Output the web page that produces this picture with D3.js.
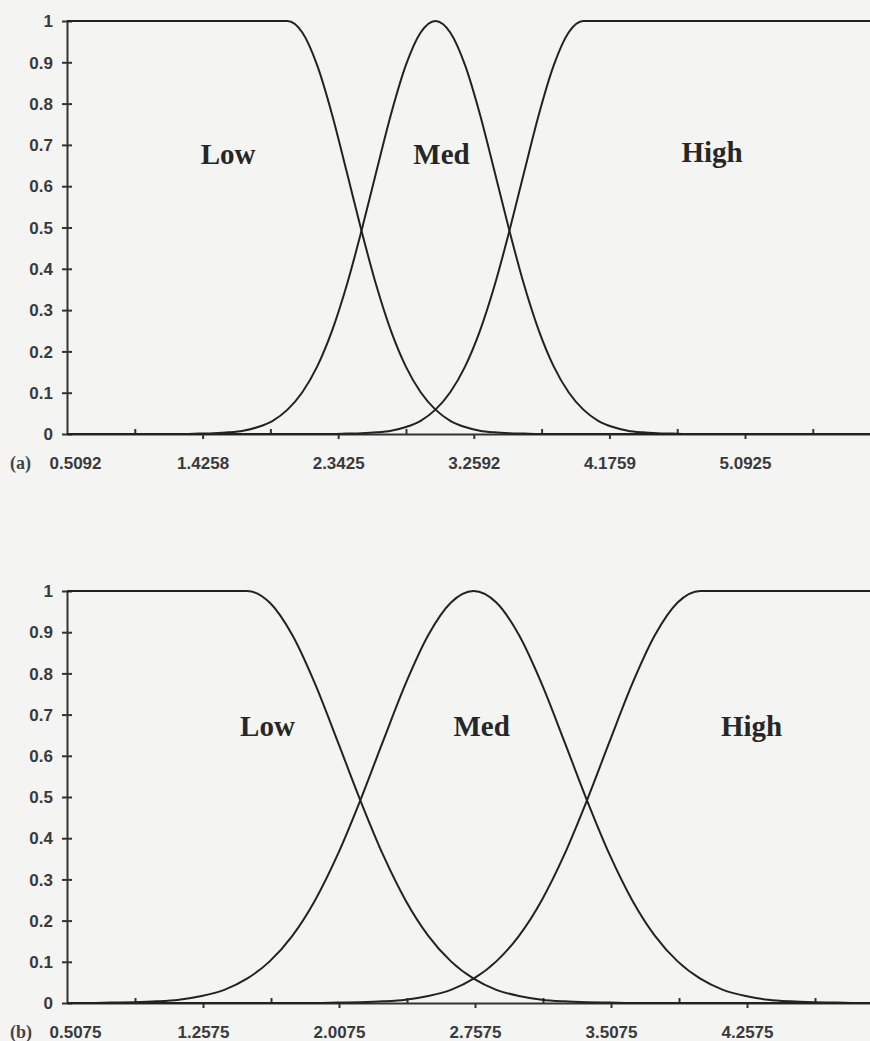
<!DOCTYPE html>
<html>
<head>
<meta charset="utf-8">
<script src="https://cdn.jsdelivr.net/npm/d3@7"></script>
<style>
  body { margin: 0; background: #f4f4f2; }
  svg { display: block; }
  .axis .tick text {
    font-family: "Liberation Sans", Arial, sans-serif;
    font-weight: bold;
    font-size: 17px;
    fill: #3a3a3a;
  }
  .axis line, .axis path { stroke: #333; stroke-width: 2; }
  .mf-line { fill: none; stroke: #222; stroke-width: 2; }
  .mf-label {
    font-family: "Liberation Serif", "Times New Roman", serif;
    font-weight: bold;
    font-size: 29px;
    fill: #262626;
    text-anchor: middle;
  }
  .panel-tag {
    font-family: "Liberation Serif", "Times New Roman", serif;
    font-size: 18px;
    font-weight: bold;
    fill: #444;
  }
</style>
</head>
<body>
<svg id="chart" width="870" height="1041"></svg>
<script>
// shared
const yTicks = [0, 0.1, 0.2, 0.3, 0.4, 0.5, 0.6, 0.7, 0.8, 0.9, 1];
const setNames = ["Low", "Med", "High"];

// panel (a)
const xLabelsA = ["0.5092", "1.4258", "2.3425", "3.2592", "4.1759", "5.0925"];
const lowA = [[0.5092, 1], [2.0, 1], [2.1, 0.972], [2.2, 0.893], [2.3, 0.775], [2.4, 0.635],
  [2.5, 0.492], [2.6, 0.36], [2.7, 0.249], [2.8, 0.163], [2.9, 0.101], [3.0, 0.059],
  [3.1, 0.032], [3.2, 0.017], [3.3, 0.008], [3.4, 0.004], [3.5, 0.002], [3.6, 0.001],
  [3.7, 0], [6.0092, 0]];
const medA = [[0.5092, 0], [1.3, 0], [1.4, 0.001], [1.5, 0.002], [1.6, 0.004], [1.7, 0.008],
  [1.8, 0.017], [1.9, 0.032], [2.0, 0.059], [2.1, 0.101], [2.2, 0.163], [2.3, 0.249],
  [2.4, 0.36], [2.5, 0.492], [2.6, 0.635], [2.7, 0.775], [2.8, 0.893], [2.9, 0.972],
  [3.0, 1], [3.1, 0.972], [3.2, 0.893], [3.3, 0.775], [3.4, 0.635], [3.5, 0.492],
  [3.6, 0.36], [3.7, 0.249], [3.8, 0.163], [3.9, 0.101], [4.0, 0.059], [4.1, 0.032],
  [4.2, 0.017], [4.3, 0.008], [4.4, 0.004], [4.5, 0.002], [4.6, 0.001], [4.7, 0],
  [6.0092, 0]];
const highA = [[0.5092, 0], [2.3, 0], [2.4, 0.001], [2.5, 0.002], [2.6, 0.004], [2.7, 0.008],
  [2.8, 0.017], [2.9, 0.032], [3.0, 0.059], [3.1, 0.101], [3.2, 0.163], [3.3, 0.249],
  [3.4, 0.36], [3.5, 0.492], [3.6, 0.635], [3.7, 0.775], [3.8, 0.893], [3.9, 0.972],
  [4.0, 1], [6.0092, 1]];

// panel (b)
const xLabelsB = ["0.5075", "1.2575", "2.0075", "2.7575", "3.5075", "4.2575"];
const lowB = [[0.5075, 1], [1.5, 1], [1.625, 0.972], [1.75, 0.893], [1.875, 0.775], [2.0, 0.635],
  [2.125, 0.492], [2.25, 0.36], [2.375, 0.249], [2.5, 0.163], [2.625, 0.101], [2.75, 0.059],
  [2.875, 0.032], [3.0, 0.017], [3.125, 0.008], [3.25, 0.004], [3.375, 0.002], [3.5, 0.001],
  [3.625, 0], [5.0075, 0]];
const medB = [[0.5075, 0], [0.625, 0], [0.75, 0.001], [0.875, 0.002], [1.0, 0.004], [1.125, 0.008],
  [1.25, 0.017], [1.375, 0.032], [1.5, 0.059], [1.625, 0.101], [1.75, 0.163], [1.875, 0.249],
  [2.0, 0.36], [2.125, 0.492], [2.25, 0.635], [2.375, 0.775], [2.5, 0.893], [2.625, 0.972],
  [2.75, 1], [2.875, 0.972], [3.0, 0.893], [3.125, 0.775], [3.25, 0.635], [3.375, 0.492],
  [3.5, 0.36], [3.625, 0.249], [3.75, 0.163], [3.875, 0.101], [4.0, 0.059], [4.125, 0.032],
  [4.25, 0.017], [4.375, 0.008], [4.5, 0.004], [4.625, 0.002], [4.75, 0.001], [4.875, 0],
  [5.0075, 0]];
const highB = [[0.5075, 0], [1.875, 0], [2.0, 0.001], [2.125, 0.002], [2.25, 0.004], [2.375, 0.008],
  [2.5, 0.017], [2.625, 0.032], [2.75, 0.059], [2.875, 0.101], [3.0, 0.163], [3.125, 0.249],
  [3.25, 0.36], [3.375, 0.492], [3.5, 0.635], [3.625, 0.775], [3.75, 0.893], [3.875, 0.972],
  [4.0, 1], [5.0075, 1]];

// layout for each panel (pixels, and label anchors in data units)
const panels = [
  {
    tag: "(a)", labels: xLabelsA, series: [lowA, medA, highA],
    domain: [0.5092, 6.0092], left: 67, right: 880.6, top: 21, bottom: 434,
    textAt: [[1.598, 0.654], [3.041, 0.654], [4.87, 0.659]],
  },
  {
    tag: "(b)", labels: xLabelsB, series: [lowB, medB, highB],
    domain: [0.5075, 5.0075], left: 67, right: 883, top: 591, bottom: 1003,
    textAt: [[1.613, 0.647], [2.794, 0.647], [4.283, 0.649]],
  },
];

const svg = d3.select("#chart");

panels.forEach((p) => {
  const x = d3.scaleLinear().domain(p.domain).range([p.left, p.right]);
  const y = d3.scaleLinear().domain([0, 1]).range([p.bottom, p.top]);
  const g = svg.append("g");

  // major ticks carry labels, minor ticks sit half way between them
  const majors = p.labels.map(Number);
  const step = majors[1] - majors[0];
  const minors = majors.map((d) => d + step / 2);
  const tickVals = [...majors, ...minors].sort((a, b) => a - b);
  const isMajor = (d) => majors.some((m) => Math.abs(m - d) < 1e-6);

  g.append("g")
    .attr("class", "axis axis-x")
    .attr("transform", `translate(0,${p.bottom})`)
    .call(
      d3.axisBottom(x)
        .tickValues(tickVals)
        .tickSizeOuter(0)
        .tickFormat((d) => {
          const i = majors.findIndex((m) => Math.abs(m - d) < 1e-6);
          return i >= 0 ? p.labels[i] : "";
        })
    )
    .call((g) =>
      g.selectAll(".tick line")
        .attr("y1", 0)
        .attr("y2", (d) => (isMajor(d) ? 5 : -5))
        .style("display", (d, i) => (i === 0 ? "none" : null))
    )
    .call((g) =>
      g.selectAll(".tick text")
        .attr("dy", null)
        .attr("y", 35)
        .attr("dx", (d, i) => (i === 0 ? 8 : 0))
    );

  g.append("g")
    .attr("class", "axis axis-y")
    .attr("transform", `translate(${p.left},0)`)
    .call(
      d3.axisLeft(y)
        .tickValues(yTicks)
        .tickSizeOuter(0)
        .tickFormat(d3.format("~g"))
    )
    .call((g) => g.selectAll(".tick line").attr("x1", 5).attr("x2", -5))
    .call((g) => g.selectAll(".tick text").attr("x", -14).attr("dy", "0.34em"));

  g.append("text")
    .attr("class", "panel-tag")
    .attr("x", 10)
    .attr("y", p.bottom + 35)
    .text(p.tag);

  const line = d3.line()
    .x((d) => x(d[0]))
    .y((d) => y(d[1]))
    .curve(d3.curveMonotoneX);

  g.selectAll(".mf-line")
    .data(p.series)
    .join("path")
    .attr("class", "mf-line")
    .attr("d", line);

  g.selectAll(".mf-label")
    .data(setNames)
    .join("text")
    .attr("class", "mf-label")
    .attr("x", (d, i) => x(p.textAt[i][0]))
    .attr("y", (d, i) => y(p.textAt[i][1]))
    .text((d) => d);
});
</script>
</body>
</html>
